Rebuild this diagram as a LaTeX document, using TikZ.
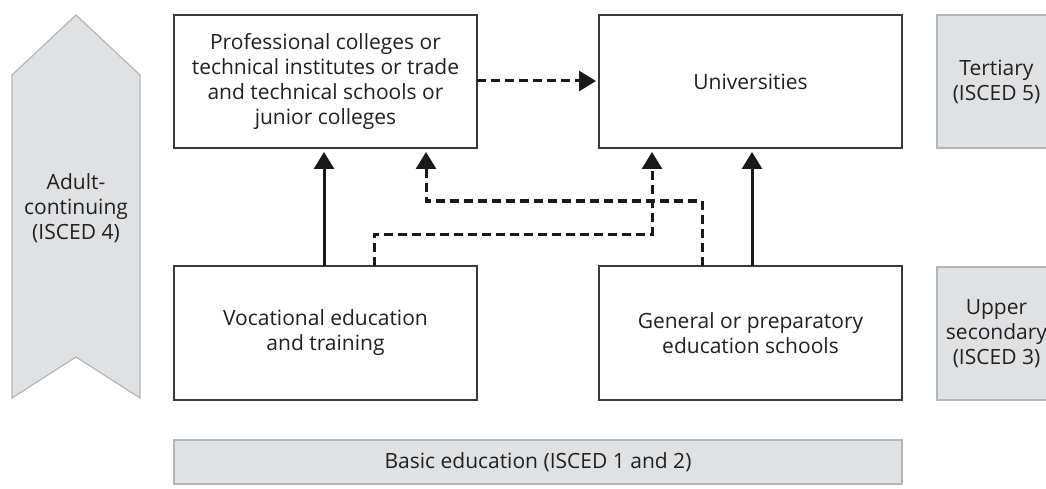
\documentclass[tikz,border=0pt]{standalone}
\usepackage{fontspec}
\setmainfont{Open Sans}
\usetikzlibrary{arrows.meta,calc}
\definecolor{txt}{HTML}{231F20}
\definecolor{grayfill}{HTML}{E0E1E3}
\definecolor{grayline}{HTML}{B4B5B7}
\definecolor{boxline}{HTML}{3A3A3A}
\begin{document}
\begin{tikzpicture}[x=1pt,y=-1pt,
  every node/.style={font=\fontsize{21}{25}\selectfont, text=txt, align=center},
  box/.style={draw=boxline, line width=1.2pt, fill=white, anchor=north west, outer sep=0pt, inner sep=4pt},
  graybox/.style={draw=grayline, line width=1.2pt, fill=grayfill, anchor=north west, outer sep=0pt, inner sep=4pt},
  solidarr/.style={line width=3pt, draw=black!90, -{Triangle[width=20pt,length=17pt]}},
  dasharr/.style={line width=3pt, draw=black!90, dash pattern=on 9pt off 5pt, -{Triangle[width=20pt,length=17pt]}},
  dashln/.style={line width=3pt, draw=black!90, dash pattern=on 9pt off 5pt}]
\useasboundingbox (0,0) rectangle (1046,489);
\clip (0,0) rectangle (1046,489);
% chevron
\draw[draw=grayline, line width=1.2pt, fill=grayfill] (12,75) -- (76,15) -- (140,75) -- (140,398) -- (76,357) -- (12,398) -- cycle;
\node (adult) at (76,208) {Adult-\\continuing\\(ISCED 4)};
% main boxes
\node[box, minimum width=303pt, minimum height=133pt] (pc) at (174,15) {Professional colleges or\\technical institutes or trade\\and technical schools or\\junior colleges};
\node[box, minimum width=303pt, minimum height=133pt] (uni) at (599,15) {Universities};
\node[box, minimum width=303pt, minimum height=134pt] (voc) at (174,266) {Vocational education\\and training};
\node[box, minimum width=303pt, minimum height=134pt] (gen) at (599,266) {General or preparatory\\education schools};
% gray boxes
\node[graybox, minimum width=123pt, minimum height=133pt] (ter) at (937,15) {};
\node at (ter.center) [xshift=-2pt] {Tertiary\\(ISCED 5)};
\node[graybox, minimum width=123pt, minimum height=133pt] (upp) at (937,267) {};
\node at (upp.center) [xshift=-2pt] {Upper\\secondary\\(ISCED 3)};
\node[graybox, minimum width=728pt, minimum height=44pt] (basic) at (174,440) {Basic education (ISCED 1 and 2)};
% connectors
\draw[solidarr] ($(voc.north west)+(150,0)$) -- ($(pc.south west)+(150,4)$);
\draw[solidarr] ($(gen.north west)+(153,0)$) -- ($(uni.south west)+(153,4)$);
\draw[dasharr] ($(voc.north west)+(200,0)$) -- ($(voc.north west)+(200,-32)$) -- ($(uni.south west)+(53,86)$) -- ($(uni.south west)+(53,4)$);
\draw[dasharr] ($(gen.north west)+(103,0)$) -- ($(gen.north west)+(103,-65)$) -- ($(pc.south west)+(252,53)$) -- ($(pc.south west)+(252,4)$);
\draw[dasharr] ($(pc.north east)+(0,66)$) -- ($(uni.north west)+(-3,66)$);
\end{tikzpicture}
\end{document}
